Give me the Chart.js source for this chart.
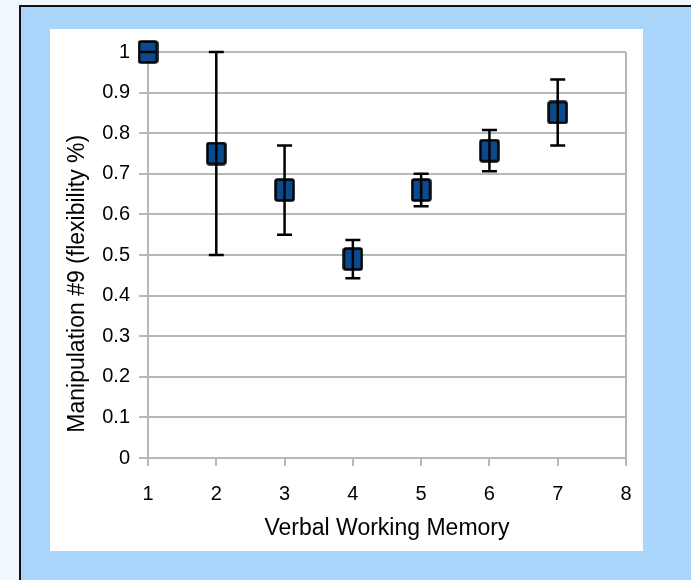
<!DOCTYPE html>
<html>
<head>
<meta charset="utf-8">
<script src="https://cdn.jsdelivr.net/npm/chart.js@4/dist/chart.umd.min.js"></script>
<style>
  html, body { margin: 0; padding: 0; width: 691px; height: 580px; overflow: hidden; background: #f1f8fd; }
  #frame { position: absolute; left: 19px; top: 5px; width: 700px; height: 600px;
           border-left: 2px solid #111; border-top: 2px solid #111; background: #aad5fb; }
  #panel { position: absolute; left: 50px; top: 29px; width: 593px; height: 522px; background: #fff; }
  #chart { position: absolute; left: 0; top: 0; }
</style>
</head>
<body>
<div id="frame"></div>
<div id="panel"><canvas id="chart" width="605" height="522"></canvas></div>
<script>
// data
const memory = [1, 2, 3, 4, 5, 6, 7];
const flexibility = [1.0, 0.75, 0.66, 0.49, 0.66, 0.757, 0.851];
const errors = [0.0, 0.25, 0.11, 0.047, 0.04, 0.051, 0.081];

const xTicks = [1, 2, 3, 4, 5, 6, 7, 8];

const gridGray = "#b8b8b8";
const fontFamily = "'Liberation Sans', Arial, sans-serif";

// marker: slightly tall dark blue box with black outline
const marker = document.createElement("canvas");
marker.width = 21;
marker.height = 24;
(() => {
  const c = marker.getContext("2d");
  c.fillStyle = "#0b4a8c";
  c.strokeStyle = "#000";
  c.lineWidth = 2.5;
  c.beginPath();
  c.roundRect(1.5, 1.5, 18, 21, 2);
  c.fill();
  c.stroke();
})();

// error bars drawn on top of the markers
const errorBars = {
  id: "errorBars",
  afterDatasetsDraw(chart) {
    const ctx = chart.ctx;
    const xs = chart.scales.x;
    const ys = chart.scales.y;
    ctx.save();
    ctx.strokeStyle = "#000";
    ctx.lineWidth = 2.5;
    memory.forEach((m, i) => {
      const px = xs.getPixelForValue(m);
      const top = ys.getPixelForValue(flexibility[i] + errors[i]);
      const bot = ys.getPixelForValue(flexibility[i] - errors[i]);
      ctx.beginPath();
      ctx.moveTo(px, top);
      ctx.lineTo(px, bot);
      ctx.moveTo(px - 7.5, top);
      ctx.lineTo(px + 7.5, top);
      ctx.moveTo(px - 7.5, bot);
      ctx.lineTo(px + 7.5, bot);
      ctx.stroke();
    });
    ctx.restore();
  },
};

new Chart(document.getElementById("chart"), {
  type: "scatter",
  data: {
    datasets: [
      {
        label: "flexibility",
        data: memory.map((m, i) => ({ x: m, y: flexibility[i] })),
        pointStyle: marker,
        pointRadius: 11,
        pointHoverRadius: 11,
        clip: false,
      },
    ],
  },
  options: {
    animation: false,
    responsive: false,
    layout: { padding: { left: 0, top: 23, right: 29, bottom: 0 } },
    plugins: { legend: { display: false }, tooltip: { enabled: false } },
    scales: {
      x: {
        type: "linear",
        min: 1,
        max: 8,
        afterBuildTicks: (s) => { s.ticks = xTicks.map((v) => ({ value: v })); },
        afterFit: (s) => { s.height = 93; },
        border: { display: true, color: gridGray, width: 2 },
        grid: {
          color: (c) => (c.tick && c.tick.value === 8 ? gridGray : "rgba(0,0,0,0)"),
          tickColor: gridGray,
          lineWidth: 2,
          tickLength: 8,
        },
        ticks: { color: "#000", padding: 16, font: { family: fontFamily, size: 20 } },
        title: {
          display: true,
          text: "Verbal Working Memory",
          color: "#000",
          font: { family: fontFamily, size: 23 },
          padding: { top: 0, bottom: 9 },
        },
      },
      y: {
        min: 0,
        max: 1,
        ticks: {
          stepSize: 0.1,
          color: "#000",
          padding: 9,
          font: { family: fontFamily, size: 20 },
          callback: (v) => String(Number(v.toFixed(1))),
        },
        afterFit: (s) => { s.width = 98; },
        border: { display: true, color: gridGray, width: 2 },
        grid: { color: gridGray, lineWidth: 2, tickLength: 9 },
        title: {
          display: true,
          // trailing spaces push the centred title down, as in the original
          text: "Manipulation #9 (flexibility %)         ",
          color: "#000",
          font: { family: fontFamily, size: 23 },
          padding: { top: 14, bottom: 0 },
        },
      },
    },
  },
  plugins: [errorBars],
});
</script>
</body>
</html>
